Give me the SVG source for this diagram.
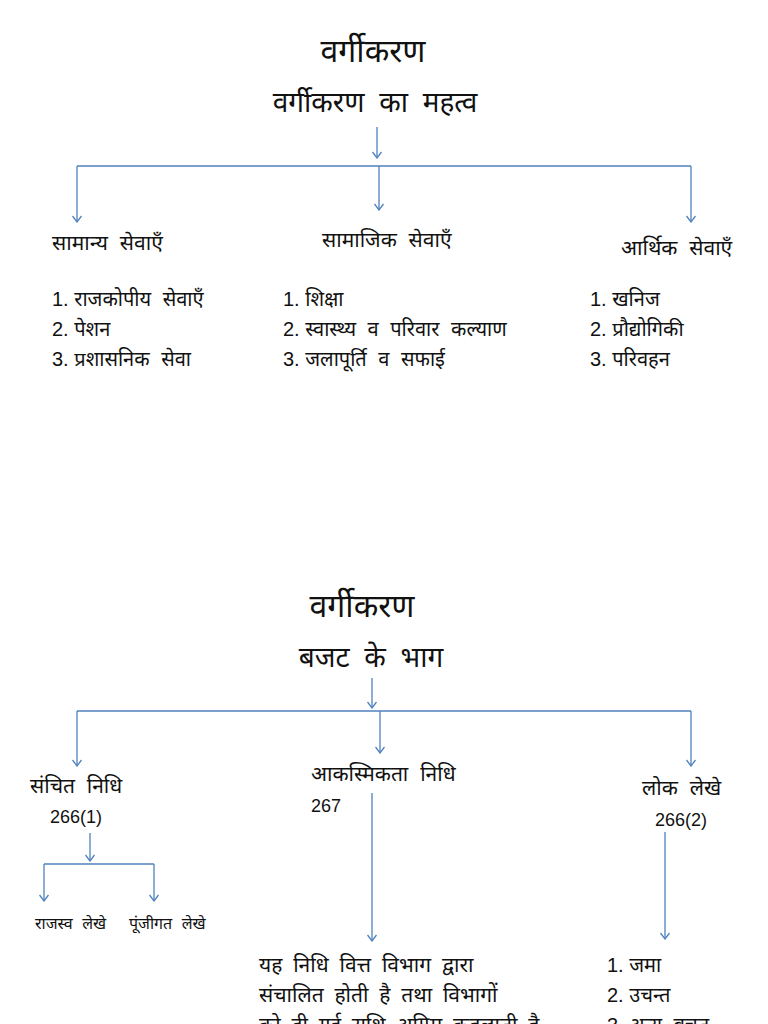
<svg xmlns="http://www.w3.org/2000/svg" width="768" height="1024" viewBox="0 0 768 1024">
<style>
text{font-family:"Liberation Sans","Noto Sans","Noto Sans Devanagari",sans-serif;fill:#111}
.t1{font-size:32px;text-anchor:middle}
.t2{font-size:28px;text-anchor:middle;word-spacing:7px}
.l{font-size:21px;word-spacing:6px}
.s{font-size:20px;word-spacing:6px}
.s tspan{word-spacing:0}
.n{font-size:18px}
.xs{font-size:16px;word-spacing:5px}
.d{font-size:21px;word-spacing:5px}
.c{stroke:#4f81bd;stroke-width:1.3;fill:none}
.a{stroke:#4f81bd;stroke-width:1.3;fill:none;marker-end:url(#ah)}
</style>
<defs>
<marker id="ah" viewBox="0 0 10 10" refX="9" refY="5" markerWidth="10" markerHeight="10" markerUnits="userSpaceOnUse" orient="auto">
<path d="M3,0.5 L9,5 L3,9.5" fill="none" stroke="#4f81bd" stroke-width="1.3"/>
</marker>
</defs>
<rect width="768" height="1024" fill="#fff"/>
<g id="connectors">
<path class="a" d="M377,127 V158"/>
<path class="c" d="M77,166 H691"/>
<path class="a" d="M77,166 V222"/>
<path class="a" d="M379,166 V210"/>
<path class="a" d="M691,166 V222"/>
<path class="a" d="M372,678 V708"/>
<path class="c" d="M77,711 H691"/>
<path class="a" d="M77,711 V766"/>
<path class="a" d="M380,711 V753"/>
<path class="a" d="M691,711 V766"/>
<path class="a" d="M90,833 V861"/>
<path class="c" d="M44,864 H154"/>
<path class="a" d="M44,864 V901"/>
<path class="a" d="M154,864 V901"/>
<path class="a" d="M372,793 V941"/>
<path class="a" d="M665,832 V939"/>
</g>
<g id="title1"><text class="t1" x="373" y="62">वर्गीकरण</text></g>
<g id="sub1"><text class="t2" x="375" y="112">वर्गीकरण का महत्व</text></g>
<g id="samanya">
<text class="l" x="52" y="250">सामान्य सेवाएँ</text>
<text class="s" x="52" y="306"><tspan>1. </tspan>राजकोपीय सेवाएँ</text>
<text class="s" x="52" y="336"><tspan>2. </tspan>पेशन</text>
<text class="s" x="52" y="366"><tspan>3. </tspan>प्रशासनिक सेवा</text>
</g>
<g id="samajik">
<text class="l" x="322" y="247">सामाजिक सेवाएँ</text>
<text class="s" x="283" y="306"><tspan>1. </tspan>शिक्षा</text>
<text class="s" x="283" y="336"><tspan>2. </tspan>स्वास्थ्य व परिवार कल्याण</text>
<text class="s" x="283" y="366"><tspan>3. </tspan>जलापूर्ति व सफाई</text>
</g>
<g id="arthik">
<text class="l" x="621" y="255">आर्थिक सेवाएँ</text>
<text class="s" x="590" y="306"><tspan>1. </tspan>खनिज</text>
<text class="s" x="590" y="336"><tspan>2. </tspan>प्रौद्योगिकी</text>
<text class="s" x="590" y="366"><tspan>3. </tspan>परिवहन</text>
</g>
<g id="title2"><text class="t1" x="362" y="617">वर्गीकरण</text></g>
<g id="sub2"><text class="t2" x="371" y="667">बजट के भाग</text></g>
<g id="sanchit">
<text class="l" x="30" y="793">संचित निधि</text>
<text class="n" x="50" y="823">266(1)</text>
</g>
<g id="rajasv"><text class="xs" x="35" y="929">राजस्व लेखे</text></g>
<g id="punjigat"><text class="xs" x="129" y="929">पूंजीगत लेखे</text></g>
<g id="akasmikta">
<text class="l" x="311" y="781">आकस्मिकता निधि</text>
<text class="n" x="311" y="812">267</text>
</g>
<g id="lok">
<text class="l" x="642" y="795">लोक लेखे</text>
<text class="n" x="655" y="826">266(2)</text>
</g>
<g id="akasmikta-desc">
<text class="d" x="259" y="972">यह निधि वित्त विभाग द्वारा</text>
<text class="d" x="259" y="1002">संचालित होती है तथा विभागों</text>
<text class="d" x="259" y="1032">को दी गई राशि अग्रिम कहलाती है</text>
</g>
<g id="lok-list">
<text class="s" x="607" y="972"><tspan>1. </tspan>जमा</text>
<text class="s" x="607" y="1002"><tspan>2. </tspan>उचन्त</text>
<text class="s" x="607" y="1032"><tspan>3. </tspan>अन्य बचत</text>
</g>
</svg>
